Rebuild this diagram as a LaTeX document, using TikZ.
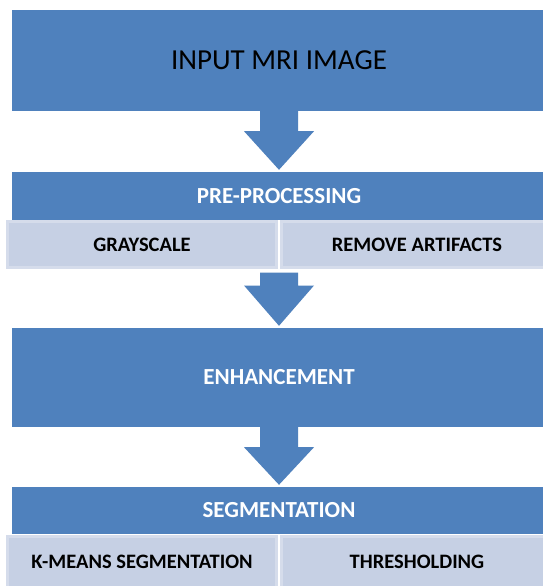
\documentclass[tikz,border=0pt]{standalone}
\usepackage{fontspec}
\setmainfont{Carlito}
\usetikzlibrary{calc}
\definecolor{accentblue}{HTML}{4F81BD}
\definecolor{cellfill}{HTML}{C6D0E4}
\definecolor{cellline}{HTML}{D5DCEB}
\newcommand{\blkarrow}[3]{%
  \fill[accentblue] let \p1=(#1), \p2=(#2) in
    (\x1-19pt,\y1) -- (\x1+19pt,\y1) -- (\x1+19pt,\y1-#3) -- (\x1+35pt,\y1-#3)
    -- (\x1,\y2+2pt) -- (\x1-35pt,\y1-#3) -- (\x1-19pt,\y1-#3) -- cycle;}
\begin{document}
\begin{tikzpicture}[x=1pt,y=-1pt,
  darkbox/.style={fill=accentblue, draw=none, inner sep=0pt, minimum width=534pt},
  cellbox/.style={fill=cellfill, draw=cellline, line width=3pt, inner sep=0pt},
  titletext/.style={font=\fontsize{29}{34}\selectfont, text=black},
  headtext/.style={font=\fontsize{23}{28}\selectfont\bfseries, text=white},
  celltext/.style={font=\fontsize{20.5}{25}\selectfont\bfseries, text=black}]
\useasboundingbox[fill=white] (0,0) rectangle (542,586);
% boxes
\node[darkbox, titletext, minimum height=101pt] (input) at (279,60.5) {INPUT MRI IMAGE};
\node[darkbox, headtext, minimum height=48pt] (pre) at (279,196) {PRE-PROCESSING};
\node[cellbox, celltext, minimum width=269pt, minimum height=46pt] (gray) at (142,244.5) {GRAYSCALE};
\node[cellbox, celltext, minimum width=272pt, minimum height=46pt] (remove) at (417,244.5) {REMOVE ARTIFACTS};
\node[darkbox, headtext, minimum height=99pt] (enh) at (279,377.5) {ENHANCEMENT};
\node[darkbox, headtext, minimum height=47pt] (seg) at (279,510.5) {SEGMENTATION};
\node[cellbox, celltext, minimum width=269pt, minimum height=51pt] (kmeans) at (142,562) {K-MEANS SEGMENTATION};
\node[cellbox, celltext, minimum width=272pt, minimum height=51pt] (thresh) at (417,562) {THRESHOLDING};
% connectors
\coordinate (a2start) at ($(pre.center |- gray.south)+(0,3.5)$);
\blkarrow{input.south}{pre.north}{20pt}
\blkarrow{a2start}{enh.north}{13pt}
\blkarrow{enh.south}{seg.north}{20pt}
\end{tikzpicture}
\end{document}
